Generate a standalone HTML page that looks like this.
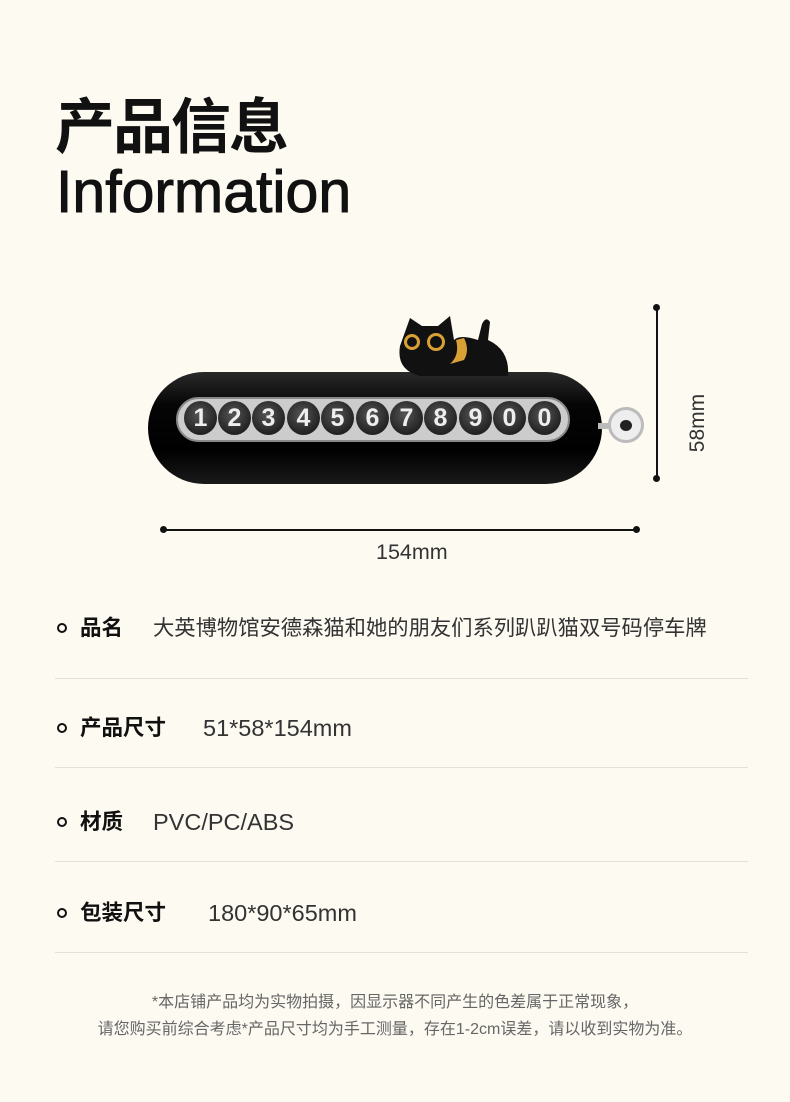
<!DOCTYPE html>
<html><head><meta charset="utf-8"><style>
*{margin:0;padding:0;box-sizing:border-box}
body{width:790px;height:1102px;background:#fdfaf2;position:relative;overflow:hidden;font-family:"Liberation Sans","Noto Sans CJK SC",sans-serif;color:#111}
.a{position:absolute;white-space:nowrap}
.t1{left:55px;top:88px;font-size:60px;font-weight:bold;line-height:80px;letter-spacing:-2px}
.t2{left:56px;top:158px;font-size:59px;line-height:68px;-webkit-text-stroke:1px #111}
.dot{position:absolute;width:10px;height:10px;border:2px solid #111;border-radius:50%}
.lab{font-size:21.5px;font-weight:bold;line-height:26px}
.val{font-size:21.3px;color:#333;line-height:26px}
.vl{font-size:23.5px;color:#333;line-height:26px}
.sep{position:absolute;left:55px;width:693px;height:1px;background:#e4e0d8}
.ft{left:0;width:790px;text-align:center;font-size:16px;color:#666;line-height:20px}
.ball{position:absolute;top:401px;width:33px;height:34px;border-radius:50%;background:radial-gradient(circle at 45% 40%,#555,#222 70%);color:#eee;font-weight:bold;font-size:25px;text-align:center;line-height:34px}
</style></head><body>
<div class="a t1">产品信息</div>
<div class="a t2">Information</div>

<div class="a" style="left:148px;top:372px;width:454px;height:112px;border-radius:56px;background:linear-gradient(#2a2a2a,#050505 30%,#000 70%,#1a1a1a);"></div>
<div class="a" style="left:176px;top:397px;width:394px;height:45px;border-radius:23px;background:#ccc;border:2px solid #888"></div>
<div class="ball" style="left:184px">1</div>
<div class="ball" style="left:218px">2</div>
<div class="ball" style="left:252px">3</div>
<div class="ball" style="left:287px">4</div>
<div class="ball" style="left:321px">5</div>
<div class="ball" style="left:356px">6</div>
<div class="ball" style="left:390px">7</div>
<div class="ball" style="left:424px">8</div>
<div class="ball" style="left:459px">9</div>
<div class="ball" style="left:493px">0</div>
<div class="ball" style="left:528px">0</div>
<svg class="a" style="left:390px;top:310px" width="130" height="72">
<path d="M20 8 L32 16 L48 16 L60 6 L64 30 Q70 24 88 30 L92 14 Q96 6 100 12 L98 30 Q120 40 118 66 L30 66 Q6 60 10 36 Z" fill="#111"/>
<circle cx="22" cy="32" r="8" fill="#d9a036"/><circle cx="22" cy="32" r="5" fill="#111"/>
<circle cx="46" cy="32" r="9" fill="#d9a036"/><circle cx="46" cy="32" r="6" fill="#111"/>
<path d="M66 30 Q70 45 60 54 L74 50 Q80 40 74 28 Z" fill="#d9a036"/>
</svg>
<div class="a" style="left:598px;top:423px;width:14px;height:6px;background:#bbb"></div>
<div class="a" style="left:608px;top:407px;width:36px;height:36px;border-radius:50%;background:#eee;border:3px solid #bbb"></div>
<div class="a" style="left:620px;top:420px;width:12px;height:11px;border-radius:50%;background:#222"></div>

<div class="a" style="left:656px;top:307px;width:1.5px;height:172px;background:#111"></div>
<div class="a" style="left:653px;top:304px;width:7px;height:7px;border-radius:50%;background:#111"></div>
<div class="a" style="left:653px;top:475px;width:7px;height:7px;border-radius:50%;background:#111"></div>
<div class="a" style="left:666px;top:411px;font-size:21px;color:#333;transform:rotate(-90deg);transform-origin:center;width:64px;text-align:center">58mm</div>
<div class="a" style="left:163px;top:529px;width:474px;height:1.5px;background:#111"></div>
<div class="a" style="left:160px;top:526px;width:7px;height:7px;border-radius:50%;background:#111"></div>
<div class="a" style="left:633px;top:526px;width:7px;height:7px;border-radius:50%;background:#111"></div>
<div class="a" style="left:376px;top:540px;font-size:21.5px;color:#333">154mm</div>

<div class="dot" style="left:57px;top:623px"></div>
<div class="a lab" style="left:80px;top:615px">品名</div>
<div class="a val" style="left:153px;top:615px">大英博物馆安德森猫和她的朋友们系列趴趴猫双号码停车牌</div>
<div class="sep" style="top:678px"></div>
<div class="dot" style="left:57px;top:723px"></div>
<div class="a lab" style="left:80px;top:715px">产品尺寸</div>
<div class="a vl" style="left:203px;top:715px">51*58*154mm</div>
<div class="sep" style="top:767px"></div>
<div class="dot" style="left:57px;top:817px"></div>
<div class="a lab" style="left:80px;top:809px">材质</div>
<div class="a vl" style="left:153px;top:809px">PVC/PC/ABS</div>
<div class="sep" style="top:861px"></div>
<div class="dot" style="left:57px;top:908px"></div>
<div class="a lab" style="left:80px;top:900px">包装尺寸</div>
<div class="a vl" style="left:208px;top:900px">180*90*65mm</div>
<div class="sep" style="top:952px"></div>

<div class="a ft" style="top:993px">*本店铺产品均为实物拍摄，因显示器不同产生的色差属于正常现象，</div>
<div class="a ft" style="top:1020px">请您购买前综合考虑*产品尺寸均为手工测量，存在1-2cm误差，请以收到实物为准。</div>
</body></html>
